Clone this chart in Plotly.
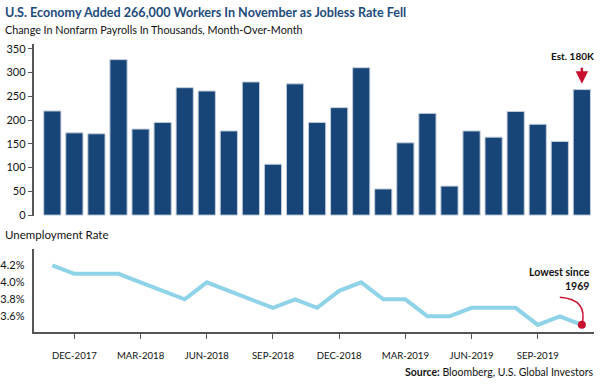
import plotly.graph_objects as go

months = ["2017-11", "2017-12", "2018-01", "2018-02", "2018-03", "2018-04", "2018-05",
          "2018-06", "2018-07", "2018-08", "2018-09", "2018-10", "2018-11", "2018-12",
          "2019-01", "2019-02", "2019-03", "2019-04", "2019-05", "2019-06", "2019-07",
          "2019-08", "2019-09", "2019-10", "2019-11"]
payrolls = [219, 173, 171, 327, 181, 195, 268, 261, 177, 280, 107, 276, 195, 226,
            310, 55, 152, 214, 61, 177, 164, 218, 191, 155, 264]
unemployment = [4.2, 4.1, 4.1, 4.1, 4.0, 3.9, 3.8, 4.0, 3.9, 3.8, 3.7, 3.8, 3.7, 3.9,
                4.0, 3.8, 3.8, 3.6, 3.6, 3.7, 3.7, 3.7, 3.5, 3.6, 3.5]
tick_months = ["2017-12", "2018-03", "2018-06", "2018-09", "2018-12", "2019-03", "2019-06", "2019-09"]
tick_labels = ["DEC-2017", "MAR-2018", "JUN-2018", "SEP-2018", "DEC-2018", "MAR-2019", "JUN-2019", "SEP-2019"]
bar_ticks = [0, 50, 100, 150, 200, 250, 300, 350]
rate_ticks = [3.6, 3.8, 4.0, 4.2]

xi = list(range(len(months)))
tick_idx = [months.index(m) for m in tick_months]

FONT = "Lato, Roboto, sans-serif"
NAVY = "#174578"
RED = "#c8102e"
AX = "#555555"

fig = go.Figure()
fig.add_trace(go.Bar(x=xi, y=payrolls, marker=dict(color=NAVY, line=dict(color="#c5cfdc", width=1)),
                     width=0.78, xaxis="x", yaxis="y", showlegend=False, hoverinfo="y"))
fig.add_trace(go.Scatter(x=xi, y=unemployment, mode="lines", line=dict(color="#8fd3e8", width=4),
                         xaxis="x2", yaxis="y2", showlegend=False))
fig.add_trace(go.Scatter(x=[xi[-1]], y=[unemployment[-1]], mode="markers",
                         marker=dict(color=RED, size=8), xaxis="x2", yaxis="y2", showlegend=False))

xr = [-0.853, 24.55]
fig.update_layout(
    width=600, height=388, margin=dict(l=0, r=0, t=0, b=0),
    paper_bgcolor="white", plot_bgcolor="white",
    font=dict(family=FONT, size=11, color="#111111"),
    bargap=0.2,
    xaxis=dict(domain=[33.5 / 600, 594 / 600], range=xr, showline=False, showticklabels=False,
               ticks="", showgrid=False, zeroline=False),
    yaxis=dict(domain=[1 - 218 / 388, 1 - 42.7 / 388], range=[-2, 360], tickvals=bar_ticks,
               showline=True, linecolor=AX, linewidth=1.5, ticks="outside", ticklen=4,
               tickcolor=AX, showgrid=False, zeroline=False, tickfont=dict(size=11)),
    xaxis2=dict(domain=[33.5 / 600, 594 / 600], range=xr, anchor="y2", tickvals=tick_idx,
                ticktext=tick_labels, showline=True, linecolor=AX, linewidth=1.5,
                ticks="outside", ticklen=5, tickcolor=AX, showgrid=False, zeroline=False,
                tickfont=dict(size=9.6), ticklabelstandoff=9),
    yaxis2=dict(domain=[1 - 336 / 388, 1 - 252 / 388], range=[3.417, 4.386], anchor="x2",
                tickvals=rate_ticks, ticktext=[f"{v:.1f}%" for v in rate_ticks],
                showline=True, linecolor=AX, linewidth=1.5, ticks="outside", ticklen=5,
                tickcolor="rgba(0,0,0,0)", showgrid=False,
                zeroline=False, tickfont=dict(size=11)),
)

fig.add_annotation(xref="paper", yref="paper", x=3 / 600, y=1 - 11 / 388, xanchor="left", yanchor="middle",
                   text="<b>U.S. Economy Added 266,000 Workers In November as Jobless Rate Fell</b>",
                   showarrow=False, font=dict(size=12.6, color="#1d4a7c"))
fig.add_annotation(xref="paper", yref="paper", x=3 / 600, y=1 - 27.5 / 388, xanchor="left", yanchor="middle",
                   text="Change In Nonfarm Payrolls In Thousands, Month-Over-Month",
                   showarrow=False, font=dict(size=10.8))
fig.add_annotation(xref="paper", yref="paper", x=3 / 600, y=1 - 237 / 388, xanchor="left", yanchor="middle",
                   text="Unemployment Rate", showarrow=False, font=dict(size=11.5))
fig.add_annotation(xref="paper", yref="paper", x=595 / 600, y=1 - 377 / 388, xanchor="right", yanchor="middle",
                   text="<b>Source:</b> Bloomberg, U.S. Global Investors", showarrow=False, font=dict(size=10.5))

# Est. 180K arrow
fig.add_annotation(x=xi[-1], y=payrolls[-1] + 12, xref="x", yref="y", ax=xi[-1], ay=payrolls[-1] + 49,
                   axref="x", ayref="y", text="", showarrow=True, arrowhead=2, arrowsize=1,
                   arrowwidth=2.5, arrowcolor=RED)
fig.add_annotation(xref="paper", yref="paper", x=596 / 600, y=1 - 55 / 388, text="<b>Est. 180K</b>",
                   showarrow=False, font=dict(size=10), xanchor="right", yanchor="middle")

# Lowest since 1969
fig.add_annotation(xref="paper", yref="paper", x=592 / 600, y=1 - 282.5 / 388, xanchor="right", yanchor="middle",
                   text="<b>Lowest since</b><br><b>1969</b>", align="right", showarrow=False,
                   font=dict(size=10.6))
fig.add_shape(type="path", xref="x2", yref="y2",
              path=f"M 23.0,3.824 Q 24.3,3.80 {xi[-1]},{unemployment[-1]}",
              line=dict(color=RED, width=1.5))

fig.write_html("out.html", post_script="document.body.style.margin='0';",
               config={"displayModeBar": False})
